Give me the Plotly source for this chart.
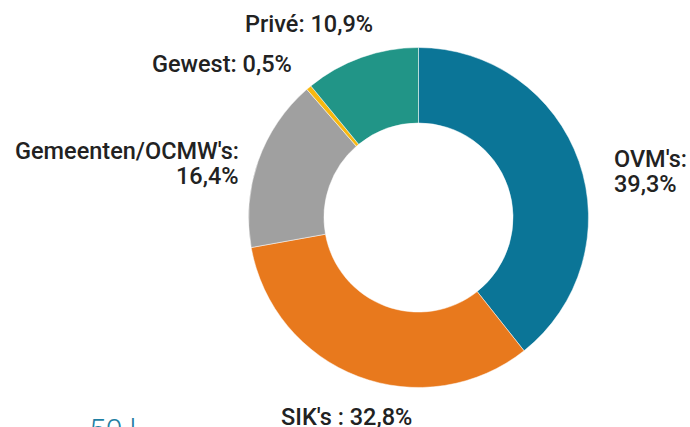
import plotly.graph_objects as go

labels = ["OVM's", "SIK's", "Gemeenten/OCMW's", "Gewest", "Privé"]
values = [39.3, 32.8, 16.4, 0.5, 10.9]
colors = ["#0b7597", "#e8791d", "#a0a0a0", "#f7b80f", "#219587"]
label_lines = [["OVM's:", "39,3%"], ["SIK's : 32,8%"], ["Gemeenten/OCMW's:", "16,4%"],
               ["Gewest: 0,5%"], ["Privé: 10,9%"]]

W, H = 690, 427
cx, cy, R = 418.5, 217.5, 170

fig = go.Figure(go.Pie(
    labels=labels, values=values, hole=0.556, sort=False, direction="clockwise",
    rotation=0, textinfo="none", hoverinfo="label+percent",
    marker=dict(colors=colors, line=dict(color="white", width=0.5)),
    domain=dict(x=[(cx - R) / W, (cx + R) / W], y=[(H - cy - R) / H, (H - cy + R) / H]),
    showlegend=False,
))

font = dict(family="Roboto", size=23.5, color="#222222", weight=500)
LH = 25
# label positions (pixel, first line center) and anchors
pos = [
    (612, 159, "left"),
    (346, 417, "center"),
    (241, 151, "right"),
    (221.5, 64, "center"),
    (308.5, 24.5, "center"),
]
for lines, (x, y, xa) in zip(label_lines, pos):
    for i, t in enumerate(lines):
        fig.add_annotation(text=t, x=x / W, y=1 - (y + i * LH) / H, xref="paper", yref="paper",
                           xanchor=xa, yanchor="middle", showarrow=False, font=font)

fig.add_annotation(text="50 l", x=87 / W, y=1 - 410 / H, xref="paper", yref="paper",
                   xanchor="left", yanchor="top", showarrow=False,
                   font=dict(family="Roboto", size=30, color="#1f7fa3", weight=300))

fig.update_layout(width=W, height=H, margin=dict(l=0, r=0, t=0, b=0),
                  paper_bgcolor="white", plot_bgcolor="white")
fig.write_html("out.html")
